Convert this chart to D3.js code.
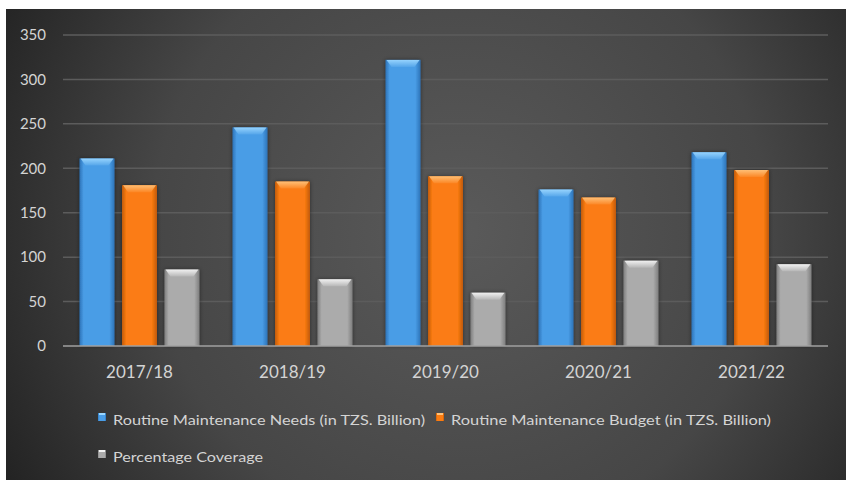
<!DOCTYPE html>
<html>
<head>
<meta charset="utf-8">
<script src="https://cdn.jsdelivr.net/npm/d3@7"></script>
<style>
body{margin:0;background:#fff;}
svg{display:block;}
text{font-family:Lato,"Liberation Sans",sans-serif;}
</style>
</head>
<body>
<script>
// data
var years = ["2017/18","2018/19","2019/20","2020/21","2021/22"];
var needs = [211,246,322,176,218];
var budget = [181,185,191,167,198];
var coverage = [86,75,60,96,92];
var seriesNames = ["Routine Maintenance Needs (in TZS. Billion)","Routine Maintenance Budget (in TZS. Billion)","Percentage Coverage"];
var yTicks = [0,50,100,150,200,250,300,350];

var svgwidth = 846, svgheight = 480;
var plot = {left:63, right:828, top:35, bottom:346};

// colours per series: body, edge, cap
var colors = [
	{body:"#4a9de6", edge:"#2d73b8", cap:"#9ad6ff"},
	{body:"#fb7c12", edge:"#c05a06", cap:"#ffc27a"},
	{body:"#ababab", edge:"#7e7e7e", cap:"#f4f4f4"}
];

var svg = d3.select("body").append("svg")
	.attr("width",svgwidth)
	.attr("height",svgheight);

var defs = svg.append("defs");

var bg = defs.append("radialGradient").attr("id","bg")
	.attr("gradientUnits","userSpaceOnUse")
	.attr("cx",460).attr("cy",230).attr("r",560);
bg.append("stop").attr("offset","0%").attr("stop-color","#5a5a5a");
bg.append("stop").attr("offset","55%").attr("stop-color","#464646");
bg.append("stop").attr("offset","100%").attr("stop-color","#1c1c1c");

colors.forEach(function(c,i){
	var g = defs.append("linearGradient").attr("id","bar"+i)
		.attr("x1","0%").attr("x2","100%").attr("y1","0%").attr("y2","0%");
	g.append("stop").attr("offset","0%").attr("stop-color",c.edge);
	g.append("stop").attr("offset","12%").attr("stop-color",c.body);
	g.append("stop").attr("offset","85%").attr("stop-color",c.body);
	g.append("stop").attr("offset","100%").attr("stop-color",c.edge);
	var cg = defs.append("linearGradient").attr("id","cap"+i)
		.attr("x1","0%").attr("x2","0%").attr("y1","0%").attr("y2","100%");
	cg.append("stop").attr("offset","0%").attr("stop-color",c.cap).attr("stop-opacity",0.95);
	cg.append("stop").attr("offset","100%").attr("stop-color",c.cap).attr("stop-opacity",0.15);
});

var shadow = defs.append("filter").attr("id","shadow")
	.attr("x","-20%").attr("y","-10%").attr("width","140%").attr("height","120%");
shadow.append("feDropShadow").attr("dx",0).attr("dy",0)
	.attr("stdDeviation",2).attr("flood-color","#000").attr("flood-opacity",0.45);

svg.append("rect")
	.attr("x",6).attr("y",9)
	.attr("width",svgwidth-6)
	.attr("height",svgheight-9)
	.attr("fill","url(#bg)");

var x = d3.scaleBand().domain(years)
	.range([plot.left,plot.right])
	.paddingInner(0.216).paddingOuter(0.108);
var xs = d3.scaleBand().domain([0,1,2])
	.range([0,x.bandwidth()])
	.paddingInner(0.176);
var y = d3.scaleLinear().domain([0,350]).range([plot.bottom,plot.top]);

// gridlines
svg.append("g").selectAll("line")
	.data(yTicks.slice(1))
	.enter().append("line")
	.attr("x1",plot.left).attr("x2",plot.right)
	.attr("y1",function(d){return y(d);})
	.attr("y2",function(d){return y(d);})
	.attr("stroke","#5c5c5c")
	.attr("stroke-width",1.5);

// y labels
svg.append("g").selectAll("text")
	.data(yTicks)
	.enter().append("text")
	.attr("x",46)
	.attr("y",function(d){return y(d);})
	.attr("dy","0.35em")
	.attr("text-anchor","end")
	.attr("fill","#d4d4d4")
	.attr("font-size",15)
	.text(function(d){return d;});

var series = [needs,budget,coverage];
var rows = [];
years.forEach(function(yr,i){
	series.forEach(function(s,j){
		rows.push({year:yr,s:j,v:s[i]});
	});
});

var bars = svg.append("g").selectAll("g")
	.data(rows)
	.enter().append("g");

bars.append("rect")
	.attr("x",function(d){return x(d.year)+xs(d.s);})
	.attr("y",function(d){return y(d.v);})
	.attr("width",xs.bandwidth())
	.attr("height",function(d){return y(0)-y(d.v);})
	.attr("fill",function(d){return "url(#bar"+d.s+")";})
	.attr("filter","url(#shadow)");

// bevelled top
bars.append("polygon")
	.attr("points",function(d){
		var x0 = x(d.year)+xs(d.s), x1 = x0+xs.bandwidth(), t = y(d.v);
		return [[x0+1,t],[x1-1,t],[x1-6,t+7],[x0+6,t+7]].join(" ");
	})
	.attr("fill",function(d){return "url(#cap"+d.s+")";});

// zero line
svg.append("line")
	.attr("x1",plot.left).attr("x2",plot.right)
	.attr("y1",y(0)).attr("y2",y(0))
	.attr("stroke","#a0a0a0")
	.attr("stroke-width",1.5);

// x labels
svg.append("g").selectAll("text")
	.data(years)
	.enter().append("text")
	.attr("x",function(d){return x(d)+x.bandwidth()/2;})
	.attr("y",378)
	.attr("text-anchor","middle")
	.attr("fill","#d4d4d4")
	.attr("font-size",17)
	.text(function(d){return d;});

// legend
var legend = [
	{x:98, y:420, w:312},
	{x:436, y:420, w:320},
	{x:98, y:457, w:150}
];
legend.forEach(function(l,i){
	svg.append("rect")
		.attr("x",l.x).attr("y",l.y-7)
		.attr("width",8).attr("height",8)
		.attr("fill","url(#bar"+i+")");
	svg.append("rect")
		.attr("x",l.x+1).attr("y",l.y-7)
		.attr("width",6).attr("height",2)
		.attr("fill",colors[i].cap);
	svg.append("text")
		.attr("x",l.x+15).attr("y",l.y)
		.attr("dy","0.35em")
		.attr("fill","#d4d4d4")
		.attr("font-size",13)
		.attr("textLength",l.w)
		.attr("lengthAdjust","spacingAndGlyphs")
		.text(seriesNames[i]);
});
</script>
</body>
</html>
